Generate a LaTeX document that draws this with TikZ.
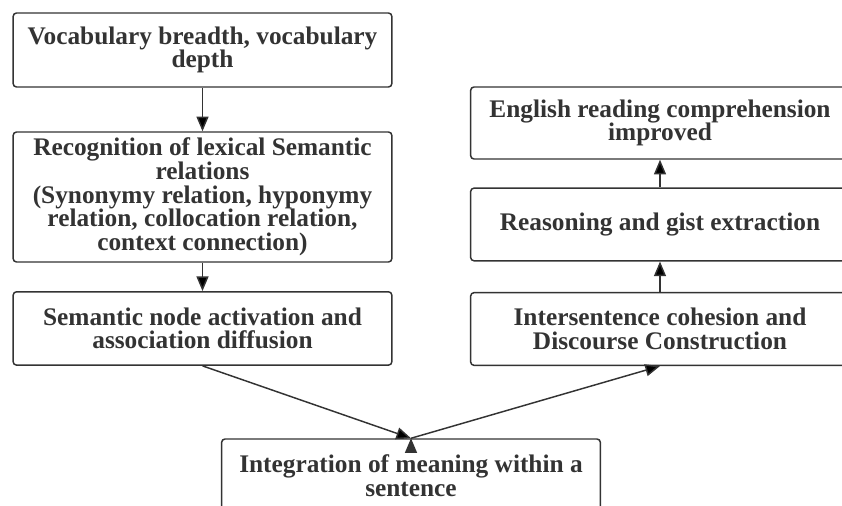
\documentclass[tikz,border=0pt]{standalone}
\usepackage{fontspec}
\setmainfont{Liberation Serif}
\usetikzlibrary{arrows.meta,positioning}

\definecolor{inkgray}{HTML}{333333}

\begin{document}
\begin{tikzpicture}[x=0.75pt,y=-0.75pt,node distance=2cm,on grid,>={Triangle[length=11pt,width=9pt]}]
       \tikzstyle{every node}=[font=\fontsize{19}{17.8}\selectfont\bfseries, text=inkgray]
       \tikzstyle{stage}=[draw=inkgray, line width=1.1pt, rounded corners=2.5pt, fill=white,
                          minimum width=284pt, align=center, inner sep=0pt]

       \clip (0,0) rectangle (842,506);
       \useasboundingbox (0,0) rectangle (842,506);

       % left column, going down
       \node[stage, minimum height=55.5pt] (vocab) at (202.5,50) {Vocabulary breadth, vocabulary\\depth};
       \node[stage, minimum height=97.5pt] (recog) [below=110.25pt of vocab]
            {Recognition of lexical Semantic\\relations\\(Synonymy relation, hyponymy\\relation, collocation relation,\\context connection)};
       \node[stage, minimum height=55pt] (activ) [below=98.6pt of recog] {Semantic node activation and\\association diffusion};

       % bottom
       \node[stage, minimum height=55.5pt] (integ) at (411,476) {Integration of meaning within a\\sentence};

       % right column, going up
       \node[stage, minimum height=54.5pt] (cohes) at (660,329) {Intersentence cohesion and\\Discourse Construction};
       \node[stage, minimum height=54.5pt] (gist) [above=78.4pt of cohes] {Reasoning and gist extraction};
       \node[stage, minimum height=54pt] (engl) [above=76.1pt of gist] {English reading comprehension\\improved};

       \path[->, draw=inkgray, line width=1.1pt]
       (vocab) edge (recog)
       (recog) edge (activ)
       (activ.south) edge (integ.north)
       (integ.north) edge (cohes.south)
       (cohes) edge (gist)
       (gist) edge (engl);
     \end{tikzpicture}
\end{document}
